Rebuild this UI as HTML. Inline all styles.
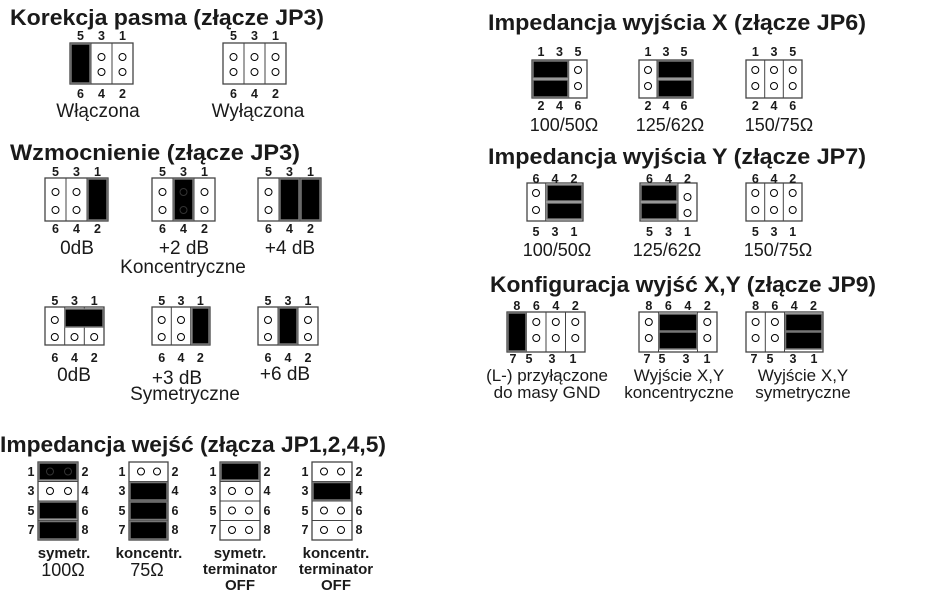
<!DOCTYPE html>
<html><head><meta charset="utf-8"><style>
html,body{margin:0;padding:0;background:#fff}
svg{display:block}
.h{font-family:"Liberation Sans",sans-serif;font-weight:bold;font-size:22px;fill:#1a1a1a}
.n{font-family:"Liberation Sans",sans-serif;font-weight:bold;font-size:12.5px;fill:#1a1a1a;text-anchor:middle}
.c{font-family:"Liberation Sans",sans-serif;font-size:19px;fill:#1a1a1a;text-anchor:middle}
.c18{font-family:"Liberation Sans",sans-serif;font-size:18px;fill:#1a1a1a;text-anchor:middle}
.c17{font-family:"Liberation Sans",sans-serif;font-size:17px;fill:#1a1a1a;text-anchor:middle}
.b{font-family:"Liberation Sans",sans-serif;font-weight:bold;font-size:15px;fill:#1a1a1a;text-anchor:middle}
.bx{fill:#fff;stroke:#444;stroke-width:1.3}
.ln{stroke:#444;stroke-width:1}
.j{fill:#000;stroke:#777;stroke-width:1.5}
.p{fill:#fff;stroke:#000;stroke-width:1}
.pf{fill:none;stroke:#333;stroke-width:1}
</style></head><body>
<svg width="927" height="614" viewBox="0 0 927 614" xmlns="http://www.w3.org/2000/svg">
<text class="h" x="10" y="25" textLength="314" lengthAdjust="spacingAndGlyphs">Korekcja pasma (złącze JP3)</text>
<text class="h" x="10" y="160" textLength="290" lengthAdjust="spacingAndGlyphs">Wzmocnienie (złącze JP3)</text>
<text class="h" x="0" y="452" textLength="386" lengthAdjust="spacingAndGlyphs">Impedancja wejść (złącza JP1,2,4,5)</text>
<text class="h" x="488" y="30" textLength="378" lengthAdjust="spacingAndGlyphs">Impedancja wyjścia X (złącze JP6)</text>
<text class="h" x="488" y="164" textLength="378" lengthAdjust="spacingAndGlyphs">Impedancja wyjścia Y (złącze JP7)</text>
<text class="h" x="490" y="292" textLength="386" lengthAdjust="spacingAndGlyphs">Konfiguracja wyjść X,Y (złącze JP9)</text>

<rect class="bx" x="70" y="43" width="63" height="41"/>
<line class="ln" x1="91" y1="43" x2="91" y2="84"/><line class="ln" x1="112" y1="43" x2="112" y2="84"/>
<rect class="j" x="71" y="44" width="19" height="39"/>
<circle class="p" cx="101.5" cy="57" r="3.5"/><circle class="p" cx="101.5" cy="72" r="3.5"/>
<circle class="p" cx="122.5" cy="57" r="3.5"/><circle class="p" cx="122.5" cy="72" r="3.5"/>
<text class="n" x="80.5" y="40">5</text><text class="n" x="101.5" y="40">3</text><text class="n" x="122.5" y="40">1</text>
<text class="n" x="80.5" y="98">6</text><text class="n" x="101.5" y="98">4</text><text class="n" x="122.5" y="98">2</text>
<text class="c" x="98" y="117">Włączona</text>
<rect class="bx" x="223" y="43" width="63" height="41"/>
<line class="ln" x1="244" y1="43" x2="244" y2="84"/><line class="ln" x1="265" y1="43" x2="265" y2="84"/>
<circle class="p" cx="233.5" cy="57" r="3.5"/><circle class="p" cx="233.5" cy="72" r="3.5"/>
<circle class="p" cx="254.5" cy="57" r="3.5"/><circle class="p" cx="254.5" cy="72" r="3.5"/>
<circle class="p" cx="275.5" cy="57" r="3.5"/><circle class="p" cx="275.5" cy="72" r="3.5"/>
<text class="n" x="233.5" y="40">5</text><text class="n" x="254.5" y="40">3</text><text class="n" x="275.5" y="40">1</text>
<text class="n" x="233.5" y="98">6</text><text class="n" x="254.5" y="98">4</text><text class="n" x="275.5" y="98">2</text>
<text class="c" x="258" y="117">Wyłączona</text>

<rect class="bx" x="45" y="178" width="63" height="43"/>
<line class="ln" x1="66" y1="178" x2="66" y2="221"/><line class="ln" x1="87" y1="178" x2="87" y2="221"/>
<circle class="p" cx="55.5" cy="192" r="3.5"/><circle class="p" cx="55.5" cy="210" r="3.5"/>
<circle class="p" cx="76.5" cy="192" r="3.5"/><circle class="p" cx="76.5" cy="210" r="3.5"/>
<rect class="j" x="88" y="179" width="19" height="41"/>
<text class="n" x="55.5" y="176">5</text><text class="n" x="76.5" y="176">3</text><text class="n" x="97.5" y="176">1</text>
<text class="n" x="55.5" y="233">6</text><text class="n" x="76.5" y="233">4</text><text class="n" x="97.5" y="233">2</text>
<text class="c" x="77" y="254">0dB</text>

<rect class="bx" x="152" y="178" width="63" height="43"/>
<line class="ln" x1="173" y1="178" x2="173" y2="221"/><line class="ln" x1="194" y1="178" x2="194" y2="221"/>
<circle class="p" cx="162.5" cy="192" r="3.5"/><circle class="p" cx="162.5" cy="210" r="3.5"/>
<rect class="j" x="174" y="179" width="19" height="41"/>
<circle class="pf" cx="183.5" cy="192" r="3.5"/><circle class="pf" cx="183.5" cy="210" r="3.5"/>
<circle class="p" cx="204.5" cy="192" r="3.5"/><circle class="p" cx="204.5" cy="210" r="3.5"/>
<text class="n" x="162.5" y="176">5</text><text class="n" x="183.5" y="176">3</text><text class="n" x="204.5" y="176">1</text>
<text class="n" x="162.5" y="233">6</text><text class="n" x="183.5" y="233">4</text><text class="n" x="204.5" y="233">2</text>
<text class="c" x="184" y="254">+2 dB</text>
<text class="c" x="183" y="273">Koncentryczne</text>

<rect class="bx" x="258" y="178" width="63" height="43"/>
<line class="ln" x1="279" y1="178" x2="279" y2="221"/><line class="ln" x1="300" y1="178" x2="300" y2="221"/>
<circle class="p" cx="268.5" cy="192" r="3.5"/><circle class="p" cx="268.5" cy="210" r="3.5"/>
<rect class="j" x="280" y="179" width="19" height="41"/>
<rect class="j" x="301" y="179" width="19" height="41"/>
<text class="n" x="268.5" y="176">5</text><text class="n" x="289.5" y="176">3</text><text class="n" x="310.5" y="176">1</text>
<text class="n" x="268.5" y="233">6</text><text class="n" x="289.5" y="233">4</text><text class="n" x="310.5" y="233">2</text>
<text class="c" x="290" y="254">+4 dB</text>

<rect class="bx" x="45" y="307" width="59" height="38"/>
<line class="ln" x1="64.7" y1="307" x2="64.7" y2="345"/><line class="ln" x1="84.3" y1="307" x2="84.3" y2="345"/>
<rect class="j" x="65" y="309" width="38" height="18"/>
<circle class="p" cx="54.8" cy="320" r="3.5"/><circle class="p" cx="54.8" cy="337" r="3.5"/>
<circle class="p" cx="74.5" cy="337" r="3.5"/><circle class="p" cx="94.2" cy="337" r="3.5"/>
<text class="n" x="54.8" y="305">5</text><text class="n" x="74.5" y="305">3</text><text class="n" x="94.2" y="305">1</text>
<text class="n" x="54.8" y="362">6</text><text class="n" x="74.5" y="362">4</text><text class="n" x="94.2" y="362">2</text>
<text class="c" x="74" y="381">0dB</text>

<rect class="bx" x="152" y="307" width="58" height="38"/>
<line class="ln" x1="171.3" y1="307" x2="171.3" y2="345"/><line class="ln" x1="190.7" y1="307" x2="190.7" y2="345"/>
<circle class="p" cx="161.7" cy="320" r="3.5"/><circle class="p" cx="161.7" cy="337" r="3.5"/>
<circle class="p" cx="181" cy="320" r="3.5"/><circle class="p" cx="181" cy="337" r="3.5"/>
<rect class="j" x="192" y="308" width="17" height="36"/>
<text class="n" x="161.7" y="305">5</text><text class="n" x="181" y="305">3</text><text class="n" x="200.3" y="305">1</text>
<text class="n" x="161.7" y="362">6</text><text class="n" x="181" y="362">4</text><text class="n" x="200.3" y="362">2</text>
<text class="c" x="177" y="384">+3 dB</text>
<text class="c" x="185" y="400">Symetryczne</text>

<rect class="bx" x="258" y="307" width="60" height="38"/>
<line class="ln" x1="278" y1="307" x2="278" y2="345"/><line class="ln" x1="298" y1="307" x2="298" y2="345"/>
<circle class="p" cx="268" cy="320" r="3.5"/><circle class="p" cx="268" cy="337" r="3.5"/>
<rect class="j" x="279" y="308" width="18" height="36"/>
<circle class="p" cx="308" cy="320" r="3.5"/><circle class="p" cx="308" cy="337" r="3.5"/>
<text class="n" x="268" y="305">5</text><text class="n" x="288" y="305">3</text><text class="n" x="308" y="305">1</text>
<text class="n" x="268" y="362">6</text><text class="n" x="288" y="362">4</text><text class="n" x="308" y="362">2</text>
<text class="c" x="285" y="380">+6 dB</text>

<g>
<rect class="bx" x="38" y="462" width="40" height="78"/>
<line class="ln" x1="38" y1="481.5" x2="78" y2="481.5"/><line class="ln" x1="38" y1="501" x2="78" y2="501"/><line class="ln" x1="38" y1="520.5" x2="78" y2="520.5"/>
<rect class="j" x="39" y="463" width="38" height="17"/>
<circle class="pf" cx="50" cy="471.5" r="3.5"/><circle class="pf" cx="68" cy="471.5" r="3.5"/>
<circle class="p" cx="50" cy="491" r="3.5"/><circle class="p" cx="68" cy="491" r="3.5"/>
<rect class="j" x="39" y="502" width="38" height="17"/>
<rect class="j" x="39" y="521.5" width="38" height="17.5"/>
</g>
<g>
<rect class="bx" x="129" y="462" width="39" height="78"/>
<line class="ln" x1="129" y1="481.5" x2="168" y2="481.5"/><line class="ln" x1="129" y1="501" x2="168" y2="501"/><line class="ln" x1="129" y1="520.5" x2="168" y2="520.5"/>
<circle class="p" cx="141" cy="471.5" r="3.5"/><circle class="p" cx="157" cy="471.5" r="3.5"/>
<rect class="j" x="130" y="482.5" width="37" height="17.5"/>
<rect class="j" x="130" y="502" width="37" height="17.5"/>
<rect class="j" x="130" y="521.5" width="37" height="17.5"/>
</g>
<g>
<rect class="bx" x="220" y="462" width="40" height="78"/>
<line class="ln" x1="220" y1="481.5" x2="260" y2="481.5"/><line class="ln" x1="220" y1="501" x2="260" y2="501"/><line class="ln" x1="220" y1="520.5" x2="260" y2="520.5"/>
<rect class="j" x="221" y="463" width="38" height="17"/>
<circle class="p" cx="232" cy="491" r="3.5"/><circle class="p" cx="249" cy="491" r="3.5"/>
<circle class="p" cx="232" cy="510.5" r="3.5"/><circle class="p" cx="249" cy="510.5" r="3.5"/>
<circle class="p" cx="232" cy="530" r="3.5"/><circle class="p" cx="249" cy="530" r="3.5"/>
</g>
<g>
<rect class="bx" x="312" y="462" width="40" height="78"/>
<line class="ln" x1="312" y1="481.5" x2="352" y2="481.5"/><line class="ln" x1="312" y1="501" x2="352" y2="501"/><line class="ln" x1="312" y1="520.5" x2="352" y2="520.5"/>
<circle class="p" cx="324" cy="471.5" r="3.5"/><circle class="p" cx="341" cy="471.5" r="3.5"/>
<rect class="j" x="313" y="482.5" width="38" height="17.5"/>
<circle class="p" cx="324" cy="510.5" r="3.5"/><circle class="p" cx="341" cy="510.5" r="3.5"/>
<circle class="p" cx="324" cy="530" r="3.5"/><circle class="p" cx="341" cy="530" r="3.5"/>
</g>
<g>
<text class="n" x="31" y="476">1</text><text class="n" x="31" y="495">3</text><text class="n" x="31" y="515">5</text><text class="n" x="31" y="534">7</text>
<text class="n" x="85" y="476">2</text><text class="n" x="85" y="495">4</text><text class="n" x="85" y="515">6</text><text class="n" x="85" y="534">8</text>
<text class="n" x="122" y="476">1</text><text class="n" x="122" y="495">3</text><text class="n" x="122" y="515">5</text><text class="n" x="122" y="534">7</text>
<text class="n" x="175" y="476">2</text><text class="n" x="175" y="495">4</text><text class="n" x="175" y="515">6</text><text class="n" x="175" y="534">8</text>
<text class="n" x="213" y="476">1</text><text class="n" x="213" y="495">3</text><text class="n" x="213" y="515">5</text><text class="n" x="213" y="534">7</text>
<text class="n" x="267" y="476">2</text><text class="n" x="267" y="495">4</text><text class="n" x="267" y="515">6</text><text class="n" x="267" y="534">8</text>
<text class="n" x="305" y="476">1</text><text class="n" x="305" y="495">3</text><text class="n" x="305" y="515">5</text><text class="n" x="305" y="534">7</text>
<text class="n" x="359" y="476">2</text><text class="n" x="359" y="495">4</text><text class="n" x="359" y="515">6</text><text class="n" x="359" y="534">8</text>
</g>
<text class="b" x="64" y="558">symetr.</text>
<text class="c18" x="63" y="576">100Ω</text>
<text class="b" x="149" y="558">koncentr.</text>
<text class="c18" x="147" y="576">75Ω</text>
<text class="b" x="240" y="558">symetr.</text>
<text class="b" x="240" y="574">terminator</text>
<text class="b" x="240" y="590">OFF</text>
<text class="b" x="336" y="558">koncentr.</text>
<text class="b" x="336" y="574">terminator</text>
<text class="b" x="336" y="590">OFF</text>

<rect class="bx" x="532" y="60" width="55" height="38"/>
<line class="ln" x1="568.7" y1="60" x2="568.7" y2="98"/>
<rect class="j" x="533" y="61" width="35" height="17"/><rect class="j" x="533" y="80" width="35" height="17"/>
<circle class="p" cx="578" cy="70" r="3.5"/><circle class="p" cx="578" cy="86" r="3.5"/>
<text class="n" x="541" y="56">1</text><text class="n" x="559.5" y="56">3</text><text class="n" x="578" y="56">5</text>
<text class="n" x="541" y="110">2</text><text class="n" x="559.5" y="110">4</text><text class="n" x="578" y="110">6</text>
<text class="c18" x="564" y="131">100/50Ω</text>

<rect class="bx" x="639" y="60" width="54" height="38"/>
<line class="ln" x1="657" y1="60" x2="657" y2="98"/>
<circle class="p" cx="648" cy="70" r="3.5"/><circle class="p" cx="648" cy="86" r="3.5"/>
<rect class="j" x="658" y="61" width="34" height="17"/><rect class="j" x="658" y="80" width="34" height="17"/>
<text class="n" x="648" y="56">1</text><text class="n" x="666" y="56">3</text><text class="n" x="684" y="56">5</text>
<text class="n" x="648" y="110">2</text><text class="n" x="666" y="110">4</text><text class="n" x="684" y="110">6</text>
<text class="c18" x="670" y="131">125/62Ω</text>

<rect class="bx" x="746" y="60" width="56" height="38"/>
<line class="ln" x1="764.7" y1="60" x2="764.7" y2="98"/><line class="ln" x1="783.3" y1="60" x2="783.3" y2="98"/>
<circle class="p" cx="755.3" cy="70" r="3.5"/><circle class="p" cx="755.3" cy="86" r="3.5"/>
<circle class="p" cx="774" cy="70" r="3.5"/><circle class="p" cx="774" cy="86" r="3.5"/>
<circle class="p" cx="792.7" cy="70" r="3.5"/><circle class="p" cx="792.7" cy="86" r="3.5"/>
<text class="n" x="755.3" y="56">1</text><text class="n" x="774" y="56">3</text><text class="n" x="792.7" y="56">5</text>
<text class="n" x="755.3" y="110">2</text><text class="n" x="774" y="110">4</text><text class="n" x="792.7" y="110">6</text>
<text class="c18" x="779" y="131">150/75Ω</text>

<rect class="bx" x="527" y="183" width="56" height="38"/>
<line class="ln" x1="545.7" y1="183" x2="545.7" y2="221"/>
<circle class="p" cx="536" cy="193" r="3.5"/><circle class="p" cx="536" cy="210" r="3.5"/>
<rect class="j" x="547" y="185" width="35" height="16"/><rect class="j" x="547" y="203" width="35" height="16"/>
<text class="n" x="536" y="183">6</text><text class="n" x="555" y="183">4</text><text class="n" x="574" y="183">2</text>
<text class="n" x="536" y="236">5</text><text class="n" x="555" y="236">3</text><text class="n" x="574" y="236">1</text>
<text class="c18" x="557" y="256">100/50Ω</text>

<rect class="bx" x="640" y="183" width="57" height="38"/>
<line class="ln" x1="678" y1="183" x2="678" y2="221"/>
<rect class="j" x="641" y="185" width="36" height="16"/><rect class="j" x="641" y="203" width="36" height="16"/>
<circle class="p" cx="687.5" cy="197" r="3.5"/><circle class="p" cx="687.5" cy="213" r="3.5"/>
<text class="n" x="649.5" y="183">6</text><text class="n" x="668.5" y="183">4</text><text class="n" x="687.5" y="183">2</text>
<text class="n" x="649.5" y="236">5</text><text class="n" x="668.5" y="236">3</text><text class="n" x="687.5" y="236">1</text>
<text class="c18" x="667" y="256">125/62Ω</text>

<rect class="bx" x="746" y="183" width="56" height="38"/>
<line class="ln" x1="764.7" y1="183" x2="764.7" y2="221"/><line class="ln" x1="783.3" y1="183" x2="783.3" y2="221"/>
<circle class="p" cx="755.3" cy="193" r="3.5"/><circle class="p" cx="755.3" cy="210" r="3.5"/>
<circle class="p" cx="774" cy="193" r="3.5"/><circle class="p" cx="774" cy="210" r="3.5"/>
<circle class="p" cx="792.7" cy="193" r="3.5"/><circle class="p" cx="792.7" cy="210" r="3.5"/>
<text class="n" x="755.3" y="183">6</text><text class="n" x="774" y="183">4</text><text class="n" x="792.7" y="183">2</text>
<text class="n" x="755.3" y="236">5</text><text class="n" x="774" y="236">3</text><text class="n" x="792.7" y="236">1</text>
<text class="c18" x="778" y="256">150/75Ω</text>

<rect class="bx" x="507" y="312" width="78" height="40"/>
<line class="ln" x1="526.5" y1="312" x2="526.5" y2="352"/><line class="ln" x1="546" y1="312" x2="546" y2="352"/><line class="ln" x1="565.5" y1="312" x2="565.5" y2="352"/>
<rect class="j" x="508" y="313" width="18" height="38"/>
<circle class="p" cx="536.3" cy="322" r="3.5"/><circle class="p" cx="536.3" cy="338" r="3.5"/>
<circle class="p" cx="555.8" cy="322" r="3.5"/><circle class="p" cx="555.8" cy="338" r="3.5"/>
<circle class="p" cx="575.3" cy="322" r="3.5"/><circle class="p" cx="575.3" cy="338" r="3.5"/>
<text class="n" x="516.8" y="310">8</text><text class="n" x="536.3" y="310">6</text><text class="n" x="555.8" y="310">4</text><text class="n" x="575.3" y="310">2</text>
<text class="n" x="513" y="363">7</text><text class="n" x="529" y="363">5</text><text class="n" x="552" y="363">3</text><text class="n" x="573" y="363">1</text>
<text class="c17" x="547" y="381">(L-) przyłączone</text>
<text class="c17" x="547" y="398">do masy GND</text>

<rect class="bx" x="639" y="312" width="78" height="40"/>
<line class="ln" x1="658.5" y1="312" x2="658.5" y2="352"/><line class="ln" x1="697.5" y1="312" x2="697.5" y2="352"/>
<circle class="p" cx="648.8" cy="322" r="3.5"/><circle class="p" cx="648.8" cy="338" r="3.5"/>
<rect class="j" x="659" y="314" width="38" height="17"/><rect class="j" x="659" y="332" width="38" height="17"/>
<circle class="p" cx="707.3" cy="322" r="3.5"/><circle class="p" cx="707.3" cy="338" r="3.5"/>
<text class="n" x="648.8" y="310">8</text><text class="n" x="668.3" y="310">6</text><text class="n" x="687.8" y="310">4</text><text class="n" x="707.3" y="310">2</text>
<text class="n" x="647" y="363">7</text><text class="n" x="662" y="363">5</text><text class="n" x="686" y="363">3</text><text class="n" x="707" y="363">1</text>
<text class="c17" x="679" y="381">Wyjście X,Y</text>
<text class="c17" x="679" y="398">koncentryczne</text>

<rect class="bx" x="746" y="312" width="77" height="40"/>
<line class="ln" x1="765.3" y1="312" x2="765.3" y2="352"/><line class="ln" x1="784.5" y1="312" x2="784.5" y2="352"/>
<circle class="p" cx="755.6" cy="322" r="3.5"/><circle class="p" cx="755.6" cy="338" r="3.5"/>
<circle class="p" cx="774.9" cy="322" r="3.5"/><circle class="p" cx="774.9" cy="338" r="3.5"/>
<rect class="j" x="785.5" y="314" width="36.5" height="17"/><rect class="j" x="785.5" y="332" width="36.5" height="17"/>
<text class="n" x="755.6" y="310">8</text><text class="n" x="774.9" y="310">6</text><text class="n" x="794.2" y="310">4</text><text class="n" x="813.5" y="310">2</text>
<text class="n" x="754" y="363">7</text><text class="n" x="770" y="363">5</text><text class="n" x="793" y="363">3</text><text class="n" x="814" y="363">1</text>
<text class="c17" x="803" y="381">Wyjście X,Y</text>
<text class="c17" x="803" y="398">symetryczne</text>
</svg>
</body></html>
